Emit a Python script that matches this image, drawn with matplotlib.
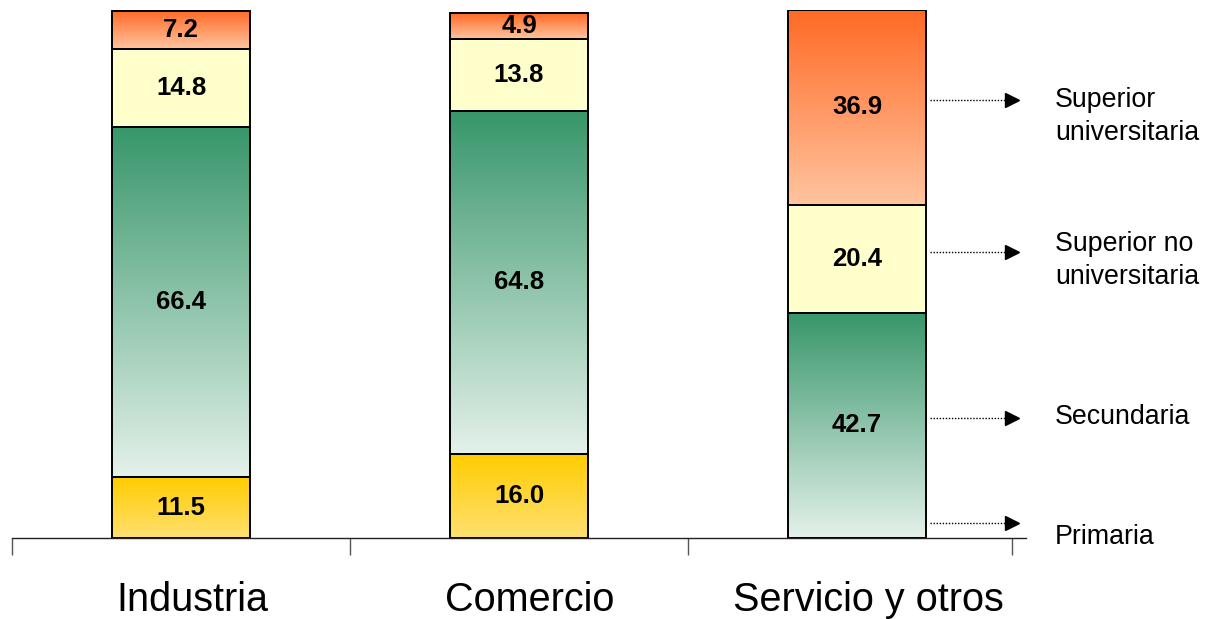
import numpy as np
import matplotlib
matplotlib.use("Agg")
import matplotlib.pyplot as plt
import matplotlib.transforms as mtransforms
from matplotlib.colors import LinearSegmentedColormap

plt.rcParams['font.family'] = ['Liberation Sans', 'DejaVu Sans']

categories = ["Industria", "Comercio", "Servicio y otros"]
levels = ["Primaria", "Secundaria", "Superior no\nuniversitaria", "Superior\nuniversitaria"]
primaria = [11.5, 16.0, 0.0]
secundaria = [66.4, 64.8, 42.7]
sup_no_univ = [14.8, 13.8, 20.4]
sup_univ = [7.2, 4.9, 36.9]
series = [primaria, secundaria, sup_no_univ, sup_univ]

# gradient colours (top, bottom) for each level
grads = [("#FFCC00", "#FFE070"),
         ("#37966A", "#E4F1EA"),
         ("#FFFFCC", "#FFFFCC"),
         ("#FF6A25", "#FFC4A0")]

fig = plt.figure(figsize=(12.05, 6.19), dpi=100)
ax = fig.add_axes([12/1205, 81/619, 1014/1205, 528/619])

width = 0.41
x = np.arange(len(categories))
bottom = np.zeros(len(categories))
for vals, (ctop, cbot) in zip(series, grads):
    vals = np.array(vals)
    cmap = LinearSegmentedColormap.from_list("g", [cbot, ctop])
    for xi, b, v in zip(x, bottom, vals):
        if v <= 0:
            continue
        grad = np.linspace(0, 1, 256).reshape(-1, 1)
        ax.imshow(grad, cmap=cmap, origin="lower", aspect="auto",
                  extent=[xi - width/2, xi + width/2, b, b + v], zorder=1,
                  interpolation="bilinear")
    ax.bar(x, vals, width, bottom=bottom, facecolor="none",
           edgecolor="black", linewidth=1.4, zorder=2)
    for xi, b, v in zip(x, bottom, vals):
        if v <= 0:
            continue
        ax.text(xi, b + v/2, f"{v:.1f}", ha="center", va="center",
                fontsize=18.5, fontweight="bold", zorder=3)
    bottom = bottom + vals
ax.set_xlim(-0.5, 2.5)
ax.set_ylim(0, 100)

# axes styling
for s in ["top", "right", "left"]:
    ax.spines[s].set_visible(False)
ax.spines["bottom"].set_color("#222222")
ax.spines["bottom"].set_linewidth(1.0)
ax.set_yticks([])
ax.set_xticks([-0.5, 0.5, 1.5, 2.46])
ax.set_xticklabels([])
ax.tick_params(axis="x", which="major", length=12, color="#555555", width=1.0)
ax.set_xticks(x, minor=True)
ax.set_xticklabels(categories, minor=True, fontsize=28.5)
ax.tick_params(axis="x", which="minor", length=0, pad=31)
offset = mtransforms.ScaledTranslation(11/100, 0, fig.dpi_scale_trans)
for lbl in ax.get_xticklabels(minor=True):
    lbl.set_transform(lbl.get_transform() + offset)

# legend arrows
arrow_y = [2.8, 22.7, 54.2, 82.9]
text_y = [0.2, 23.0, 52.6, 79.8]
for ay, ty, lab in zip(arrow_y, text_y, levels):
    ax.plot([2.216, 2.44], [ay, ay], linestyle=(0, (1, 1.2)), color="black",
            linewidth=1.0, clip_on=False)
    ax.plot([2.46], [ay], marker=">", markersize=10, color="black",
            clip_on=False, linestyle="none")
    ax.text(2.586, ty, lab, ha="left", va="center", fontsize=19.3,
            linespacing=1.34, clip_on=False)

fig.savefig("out.png", dpi=100)
